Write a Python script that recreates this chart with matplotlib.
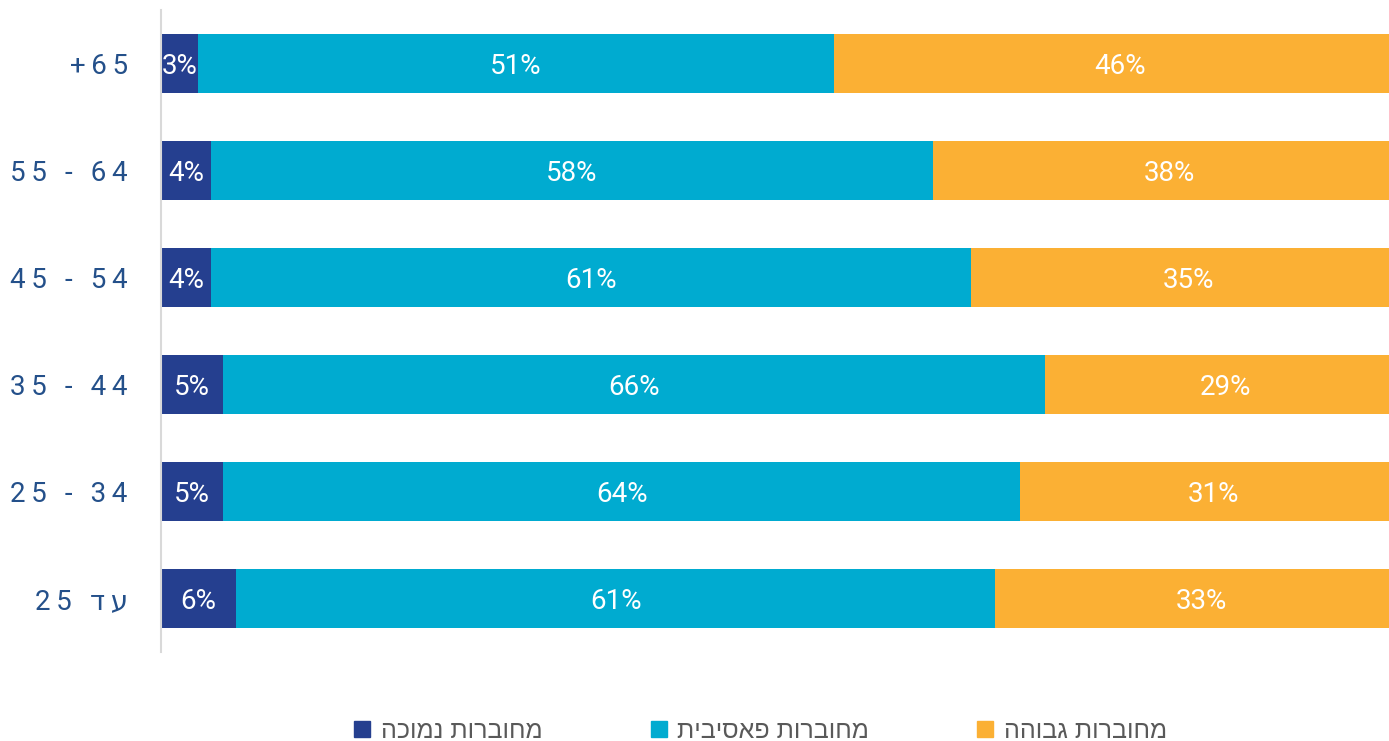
import matplotlib
matplotlib.use("Agg")
import matplotlib.pyplot as plt
from matplotlib.lines import Line2D
import numpy as np

# ---- data ----
categories = ["עד 25", "25 - 34", "35 - 44", "45 - 54", "55 - 64", "+65"]
low = [6, 5, 5, 4, 4, 3]
passive = [61, 64, 66, 61, 58, 51]
high = [33, 31, 29, 35, 38, 46]
series_names = ["מחוברות נמוכה", "מחוברות פאסיבית", "מחוברות גבוהה"]
colors = ["#253f8f", "#00abd0", "#fbb034"]


def is_heb(t):
    return any("\u0590" <= ch <= "\u05ff" for ch in t)


def visual(s):
    """Reorder a logical RTL string to visual order for LTR rendering."""
    if not is_heb(s):
        return s
    toks = s.split(" ")
    out = []
    for t in reversed(toks):
        out.append(t[::-1] if is_heb(t) else t)
    return " ".join(out)


def spaced(s):
    return "\u2009".join(visual(s))


W, H = 1389, 741
fig = plt.figure(figsize=(W / 100, H / 100), dpi=100)
ax = fig.add_axes([161 / W, (741 - 652) / H, 1 - 161 / W, (652 - 10) / H])

y = np.arange(len(categories))
data = [low, passive, high]
left = np.zeros(len(categories))
for vals, c in zip(data, colors):
    vals = np.array(vals, dtype=float)
    ax.barh(y, vals, left=left, height=0.56, color=c, edgecolor="none")
    for yi, l, v in zip(y, left, vals):
        ax.text(l + v / 2, yi, f"{int(v)}%", ha="center", va="center_baseline",
                color="white", fontsize=20, family=["Roboto", "DejaVu Sans"])
    left += vals

ax.set_xlim(0, 98.6)
ax.set_ylim(-0.5, 5.5)
ax.set_xticks([])
ax.set_yticks(y)
ax.set_yticklabels([spaced(c) for c in categories], fontsize=20,
                   color="#24508a", family=["Roboto", "DejaVu Sans"])
ax.tick_params(axis="y", length=0, pad=24)
for s in ["top", "right", "bottom"]:
    ax.spines[s].set_visible(False)
ax.spines["left"].set_color("#d9d9d9")
ax.spines["left"].set_linewidth(1.5)

handles = [Line2D([], [], marker="s", linestyle="none", markersize=12,
                  markerfacecolor=c, markeredgecolor=c) for c in colors]
fig.legend(handles, [visual(n) for n in series_names], loc="center",
           bbox_to_anchor=(759 / W, (741 - 731) / H), ncol=3, frameon=False,
           prop={"family": ["Liberation Sans", "DejaVu Sans"], "size": 18},
           labelcolor="#595959", columnspacing=4.2, handletextpad=0.3,
           handlelength=0.9)

fig.savefig("out.png", dpi=100)
